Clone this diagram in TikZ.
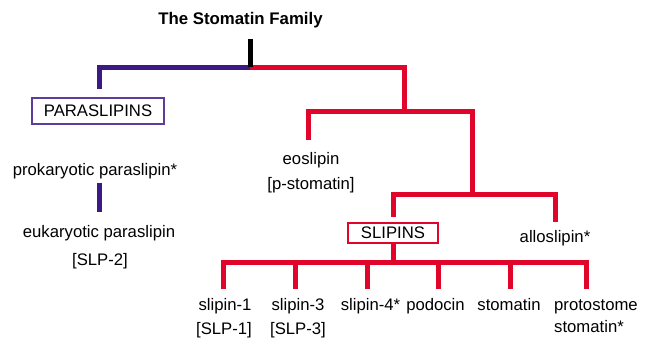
\documentclass[tikz,border=0pt]{standalone}
\usepackage{fontspec}
\setmainfont{Liberation Sans}
\definecolor{tpurple}{HTML}{3C1A85}
\definecolor{tpurbox}{HTML}{5E3C9C}
\definecolor{tred}{HTML}{E1052C}
\begin{document}
\begin{tikzpicture}[x=1pt,y=-1pt,
  lbl/.style={anchor=base,inner sep=0pt,font=\fontsize{16.7}{20}\selectfont},
  title/.style={lbl,font=\fontsize{16.8}{20}\selectfont\bfseries},
  trunk/.style={line width=5pt,line join=miter,line cap=butt},
  purl/.style={trunk,draw=tpurple},
  redl/.style={trunk,draw=tred},
  blkl/.style={trunk,draw=black},
  pbox/.style={draw=tpurbox,line width=1.2pt,fill=white,inner sep=0pt,font=\fontsize{16.7}{20}\selectfont},
  rbox/.style={draw=tred,line width=1.2pt,fill=white,inner sep=0pt,font=\fontsize{16.7}{20}\selectfont}]
\useasboundingbox (0,0) rectangle (648,344);

% titles and labels
\node[title] (title) at (240.5,25) {The Stomatin Family};
\node[pbox,minimum width=132pt,minimum height=26pt] (para) at (98,111) {PARASLIPINS};
\node[lbl] (prok) at (95,176) {prokaryotic paraslipin*};
\node[lbl] (euk) at (99,238) {eukaryotic paraslipin};
\node[lbl] (slp2) at (100,266) {[SLP-2]};
\node[lbl] (eos) at (311,165) {eoslipin};
\node[lbl] (pst) at (311,190) {[p-stomatin]};
\node[rbox,minimum width=90pt,minimum height=20pt] (slip) at (393,233) {SLIPINS};
\node[lbl] (allo) at (555,243) {alloslipin*};
\node[lbl] (s1) at (225,311) {slipin-1};
\node[lbl] (slp1) at (224,335) {[SLP-1]};
\node[lbl] (s3) at (298,311) {slipin-3};
\node[lbl] (slp3) at (298,335) {[SLP-3]};
\node[lbl] (s4) at (370.5,311) {slipin-4*};
\node[lbl] (pod) at (435.5,311) {podocin};
\node[lbl] (sto) at (509,311) {stomatin};
\node[lbl,anchor=base west] (pro) at (554,311) {protostome};
\node[lbl,anchor=base west] (pro2) at (554,333) {stomatin*};

% junction coordinates
\coordinate (rootTop) at (250,39);
\coordinate (rootJ) at (250,67.5);
\coordinate (pEnd) at (99,89);
\coordinate (pA) at (99,183);
\coordinate (pB) at (99,212);
\coordinate (rJ) at (404,112);
\coordinate (eoEnd) at (308,140);
\coordinate (b2R) at (472,112);
\coordinate (b3) at (472,195);
\coordinate (slEnd) at (393,217);
\coordinate (b3R) at (555,195);
\coordinate (alEnd) at (555,222);
\coordinate (b4) at (393,263);
\coordinate (d1) at (223,289);
\coordinate (d2) at (295,289);
\coordinate (d3) at (367,289);
\coordinate (d4) at (438,289);
\coordinate (d5) at (510,289);
\coordinate (d6) at (586,289);

% connectors
\draw[purl] (pEnd) |- (rootJ);
\draw[purl] (pA) -- (pB);
\draw[redl] (rootJ) -| (rJ);
\draw[redl] (eoEnd) |- (b2R) -- (b3);
\draw[redl] (slEnd) |- (b3R) -- (alEnd);
\draw[redl] (slip.south) -- (b4);
\draw[redl] (d1) |- (b4) -| (d6);
\foreach \d in {d2,d3,d4,d5} \draw[redl] (\d) -- (\d |- b4);
\draw[blkl] (rootTop) -- (rootJ);
\end{tikzpicture}
\end{document}
